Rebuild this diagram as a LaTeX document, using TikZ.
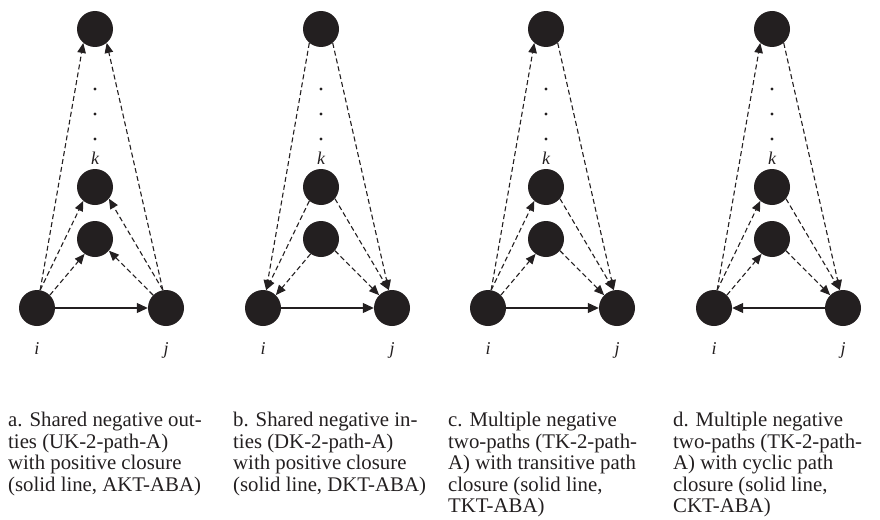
\documentclass[tikz,border=0pt]{standalone}
\usepackage{fontspec}
\setmainfont{Liberation Serif}
\usetikzlibrary{positioning,arrows.meta}
\definecolor{nodeblack}{RGB}{35,31,32}

\begin{document}
\begin{tikzpicture}
    [x=1pt,y=-1pt,
     vertex/.style={circle, fill=nodeblack, inner sep=0pt, minimum size=36pt},
     negarrow/.style={draw=nodeblack, dash pattern=on 5pt off 3pt, line width=1.1pt, -{Triangle[length=10pt,width=8.5pt]}},
     posarrow/.style={draw=nodeblack, line width=1.1pt, -{Triangle[length=11pt,width=10pt]}},
     lbl/.style={anchor=base, text=nodeblack, font=\fontsize{18}{18}\selectfont\itshape},
     caption/.style={anchor=north west, align=left, inner sep=0pt, text=nodeblack, font=\fontsize{20.8}{21.5}\selectfont}]
  \useasboundingbox (0,0) rectangle (880,519);

  % the five vertices of every panel
  \foreach \p/\dx in {a/0, b/226, c/451, d/677} {
    \node[vertex] (top\p) at (95+\dx,29) {};
    \node[vertex] (k\p) at (95+\dx,187) {};
    \node[vertex] (m\p) at (95+\dx,239) {};
    \node[vertex] (i\p) at (37+\dx,308) {};
    \node[vertex] (j\p) at (166+\dx,308) {};
    \foreach \y in {89,114,139}
      \fill[nodeblack] (95+\dx,\y) circle (1.7pt);
    \node[lbl] (labk\p) at (95+\dx,164) {k};
    \node[lbl] (labi\p) at (37+\dx,354) {i};
    \node[lbl] (labj\p) at (166+\dx,354) {j};
  }

  % a. shared out-ties
  \foreach \from/\to in {ia.80/topa.230, ja.100/topa.310, ia.80/ka.230, ja.100/ka.320, ia.45/ma.235, ja.135/ma.320}
    \draw[negarrow] (\from) -- (\to);
  \draw[posarrow] (ia) -- (ja);

  % b. shared in-ties
  \foreach \from/\to in {topb.230/ib.80, topb.310/jb.100, kb.230/ib.80, kb.320/jb.100, mb.235/ib.45, mb.320/jb.135}
    \draw[negarrow] (\from) -- (\to);
  \draw[posarrow] (ib) -- (jb);

  % c. transitive closure
  \foreach \from/\to in {ic.80/topc.230, topc.310/jc.100, ic.80/kc.230, kc.320/jc.100, ic.45/mc.235, mc.320/jc.135}
    \draw[negarrow] (\from) -- (\to);
  \draw[posarrow] (ic) -- (jc);

  % d. cyclic closure
  \foreach \from/\to in {id.80/topd.230, topd.310/jd.100, id.80/kd.230, kd.320/jd.100, id.45/md.235, md.320/jd.135}
    \draw[negarrow] (\from) -- (\to);
  \draw[posarrow] (jd) -- (id);

  % captions
  \node[caption] (capa) at (8,412) {a. Shared negative out-\\ties (UK-2-path-A)\\with positive closure\\(solid line, AKT-ABA)};
  \node[caption] (capb) at (233,412) {b. Shared negative in-\\ties (DK-2-path-A)\\with positive closure\\(solid line, DKT-ABA)};
  \node[caption] (capc) at (448,412) {c. Multiple negative\\two-paths (TK-2-path-\\A) with transitive path\\closure (solid line,\\TKT-ABA)};
  \node[caption] (capd) at (673,412) {d. Multiple negative\\two-paths (TK-2-path-\\A) with cyclic path\\closure (solid line,\\CKT-ABA)};
\end{tikzpicture}
\end{document}
